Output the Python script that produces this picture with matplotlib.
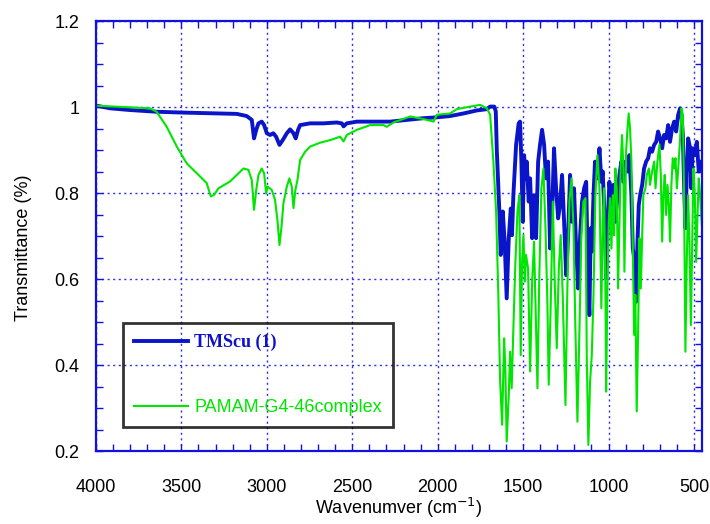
import matplotlib
matplotlib.use('Agg')
import matplotlib.pyplot as plt
from matplotlib.ticker import MultipleLocator, FormatStrFormatter

plt.rcParams['font.family'] = ['Liberation Sans', 'DejaVu Sans']

# TMScu (1) spectrum: wavenumber (cm-1) and transmittance
tmscu_wn = [3996, 3918, 3801, 3645, 3488, 3293, 3176, 3118, 3088, 3075,
            3062, 3049, 3030, 3016, 3000, 2981, 2962, 2946, 2926, 2907,
            2883, 2864, 2844, 2831, 2817, 2805, 2747, 2669, 2591, 2561,
            2551, 2532, 2473, 2376, 2278, 2181, 2083, 2005, 1927, 1849,
            1771, 1712, 1693, 1669, 1660, 1654, 1639, 1631, 1619, 1608,
            1596, 1584, 1572, 1565, 1557, 1541, 1526, 1518, 1510, 1502,
            1494, 1487, 1479, 1467, 1459, 1447, 1436, 1424, 1412, 1401,
            1389, 1377, 1366, 1354, 1342, 1330, 1319, 1307, 1295, 1284,
            1272, 1260, 1248, 1237, 1225, 1213, 1202, 1190, 1178, 1166,
            1155, 1143, 1131, 1120, 1112, 1104, 1098, 1088, 1079, 1065,
            1053, 1042, 1034, 1022, 1014, 1006, 995, 983, 971, 960,
            948, 936, 925, 913, 901, 889, 878, 866, 858, 846,
            839, 831, 823, 815, 803, 792, 780, 768, 757, 745,
            733, 721, 710, 698, 686, 675, 663, 651, 640, 628,
            616, 604, 593, 581, 573, 565, 558, 550, 542, 534,
            522, 515, 507, 495, 483, 472, 460, 452]
tmscu_t = [1.003, 0.997, 0.993, 0.989, 0.987, 0.985, 0.984, 0.979, 0.970, 0.927,
           0.947, 0.962, 0.966, 0.958, 0.939, 0.935, 0.939, 0.931, 0.912, 0.923,
           0.939, 0.948, 0.939, 0.927, 0.947, 0.958, 0.962, 0.962, 0.964, 0.962,
           0.955, 0.962, 0.966, 0.966, 0.966, 0.970, 0.974, 0.976, 0.979, 0.985,
           0.992, 0.995, 1.001, 1.001, 0.990, 0.900, 0.757, 0.656, 0.757, 0.687,
           0.555, 0.695, 0.764, 0.702, 0.795, 0.912, 0.962, 0.966, 0.873, 0.733,
           0.888, 0.834, 0.873, 0.780, 0.834, 0.695, 0.795, 0.695, 0.873, 0.912,
           0.947, 0.912, 0.834, 0.873, 0.671, 0.757, 0.904, 0.811, 0.741, 0.772,
           0.842, 0.733, 0.609, 0.695, 0.842, 0.733, 0.811, 0.679, 0.578, 0.702,
           0.780, 0.811, 0.826, 0.594, 0.516, 0.718, 0.664, 0.795, 0.873, 0.834,
           0.904, 0.826, 0.850, 0.733, 0.602, 0.718, 0.826, 0.772, 0.819, 0.733,
           0.795, 0.842, 0.873, 0.826, 0.873, 0.850, 0.888, 0.795, 0.671, 0.640,
           0.547, 0.679, 0.772, 0.795, 0.819, 0.857, 0.873, 0.881, 0.904, 0.896,
           0.912, 0.919, 0.943, 0.927, 0.904, 0.935, 0.927, 0.958, 0.919, 0.950,
           0.966, 0.943, 0.981, 0.997, 0.981, 0.935, 0.826, 0.718, 0.842, 0.927,
           0.904, 0.811, 0.904, 0.888, 0.919, 0.850, 0.873, 0.857]

# PAMAM-G4-46 complex spectrum
pamam_wn = [3996, 3840, 3684, 3645, 3586, 3527, 3469, 3410, 3352, 3328,
            3308, 3283, 3215, 3176, 3137, 3108, 3088, 3075, 3062, 3049,
            3030, 3016, 3004, 2996, 2971, 2952, 2938, 2926, 2914, 2903,
            2883, 2868, 2854, 2844, 2833, 2821, 2805, 2776, 2747, 2688,
            2630, 2571, 2551, 2532, 2473, 2395, 2317, 2298, 2259, 2161,
            2083, 2024, 2005, 1927, 1888, 1810, 1751, 1712, 1693, 1674,
            1658, 1645, 1635, 1623, 1611, 1604, 1596, 1584, 1576, 1567,
            1557, 1545, 1533, 1522, 1514, 1506, 1498, 1490, 1483, 1471,
            1459, 1447, 1436, 1424, 1416, 1405, 1393, 1381, 1369, 1358,
            1350, 1338, 1326, 1315, 1303, 1291, 1280, 1268, 1252, 1241,
            1229, 1217, 1205, 1194, 1182, 1170, 1159, 1147, 1135, 1127,
            1118, 1108, 1098, 1088, 1077, 1065, 1053, 1042, 1034, 1026,
            1018, 1014, 1006, 999, 991, 983, 975, 968, 960, 952,
            944, 936, 928, 921, 913, 907, 897, 889, 882, 874,
            866, 858, 850, 843, 835, 827, 819, 811, 803, 796,
            784, 776, 764, 757, 745, 733, 725, 714, 702, 694,
            686, 679, 671, 663, 655, 647, 640, 632, 624, 616,
            608, 600, 593, 581, 573, 565, 558, 550, 542, 534,
            526, 518, 511, 503, 495, 487, 479, 472, 464, 454]
pamam_t = [1.003, 1.000, 0.997, 0.989, 0.954, 0.908, 0.869, 0.846, 0.823, 0.792,
           0.796, 0.811, 0.827, 0.842, 0.857, 0.854, 0.830, 0.761, 0.807, 0.842,
           0.857, 0.846, 0.799, 0.815, 0.807, 0.784, 0.737, 0.679, 0.722, 0.776,
           0.815, 0.834, 0.815, 0.765, 0.807, 0.830, 0.877, 0.896, 0.908, 0.917,
           0.923, 0.931, 0.920, 0.935, 0.947, 0.958, 0.958, 0.954, 0.964, 0.978,
           0.972, 0.966, 0.982, 0.985, 0.995, 1.001, 1.005, 0.997, 0.982, 0.873,
           0.757, 0.563, 0.369, 0.261, 0.462, 0.392, 0.222, 0.330, 0.431, 0.346,
           0.485, 0.640, 0.757, 0.795, 0.423, 0.640, 0.702, 0.594, 0.656, 0.625,
           0.385, 0.594, 0.687, 0.485, 0.346, 0.609, 0.811, 0.857, 0.718, 0.547,
           0.354, 0.547, 0.780, 0.594, 0.439, 0.625, 0.702, 0.563, 0.307, 0.578,
           0.780, 0.834, 0.718, 0.485, 0.268, 0.485, 0.702, 0.780, 0.788, 0.408,
           0.214, 0.361, 0.423, 0.563, 0.795, 0.888, 0.811, 0.532, 0.733, 0.811,
           0.563, 0.338, 0.594, 0.733, 0.788, 0.671, 0.795, 0.702, 0.857, 0.811,
           0.578, 0.733, 0.873, 0.935, 0.857, 0.617, 0.896, 0.950, 0.985, 0.950,
           0.873, 0.679, 0.470, 0.563, 0.292, 0.470, 0.695, 0.578, 0.702, 0.795,
           0.811, 0.842, 0.857, 0.819, 0.850, 0.873, 0.811, 0.873, 0.912, 0.842,
           0.687, 0.795, 0.842, 0.749, 0.819, 0.772, 0.687, 0.819, 0.881, 0.857,
           0.881, 0.811, 0.850, 0.927, 0.997, 0.981, 0.795, 0.431, 0.640, 0.795,
           0.679, 0.493, 0.656, 0.857, 0.795, 0.640, 0.749, 0.834, 0.795, 0.726]

series_labels = ['TMScu (1)', 'PAMAM-G4-46complex']

axis_blue = '#1010E0'
grid_blue = '#3030E8'

fig = plt.figure(figsize=(7.1, 5.24), dpi=100)
ax = fig.add_axes([0.1352, 0.1393, 0.8535, 0.8206])

ln_tmscu, = ax.plot(tmscu_wn, tmscu_t, color='#0A14C8', lw=2.8,
                    solid_joinstyle='round', label=series_labels[0])
ln_pamam, = ax.plot(pamam_wn, pamam_t, color='#00E600', lw=1.5,
                    solid_joinstyle='round', label=series_labels[1])

ax.set_xlim(4000, 453)
ax.set_ylim(0.2, 1.2)

ax.xaxis.set_major_locator(MultipleLocator(500))
ax.xaxis.set_minor_locator(MultipleLocator(100))
ax.yaxis.set_major_locator(MultipleLocator(0.2))
ax.yaxis.set_minor_locator(MultipleLocator(0.05))
ax.yaxis.set_major_formatter(FormatStrFormatter('%g'))

ax.grid(True, which='major', color=grid_blue, ls=(0, (1.5, 2.5)), lw=1.0)
ax.set_axisbelow(True)

ax.tick_params(which='both', direction='in', top=True, right=True,
               color=axis_blue, labelcolor='black', labelsize=13)
ax.tick_params(which='major', length=5, width=1)
ax.tick_params(which='minor', length=5, width=1)
ax.tick_params(axis='x', which='major', pad=20)
ax.tick_params(axis='y', which='major', pad=12)

for sp in ax.spines.values():
    sp.set_color(axis_blue)
    sp.set_linewidth(1.6)

ax.set_xlabel('Wavenumver (cm$^{-1}$)', fontsize=13, labelpad=0)
ax.set_ylabel('Transmittance (%)', fontsize=13, labelpad=18)
ax.yaxis.set_label_coords(-0.105, 0.472)

# legend box is see-through so the grid shows inside it
leg = ax.legend(handles=[ln_tmscu, ln_pamam], loc='upper left',
                bbox_to_anchor=(0.0446, 0.2977), borderaxespad=0,
                fontsize=13, handlelength=3.0, handletextpad=0.35,
                labelspacing=2.66, borderpad=0.6, fancybox=False,
                frameon=True, facecolor='none', edgecolor='black',
                framealpha=None)
leg.get_frame().set_linewidth(2.0)
texts = leg.get_texts()
texts[0].set_color('#1010C8')
texts[0].set_fontfamily('Liberation Serif')
texts[0].set_fontweight('bold')
texts[1].set_color('#00E600')

fig.savefig('out.png', dpi=100)
